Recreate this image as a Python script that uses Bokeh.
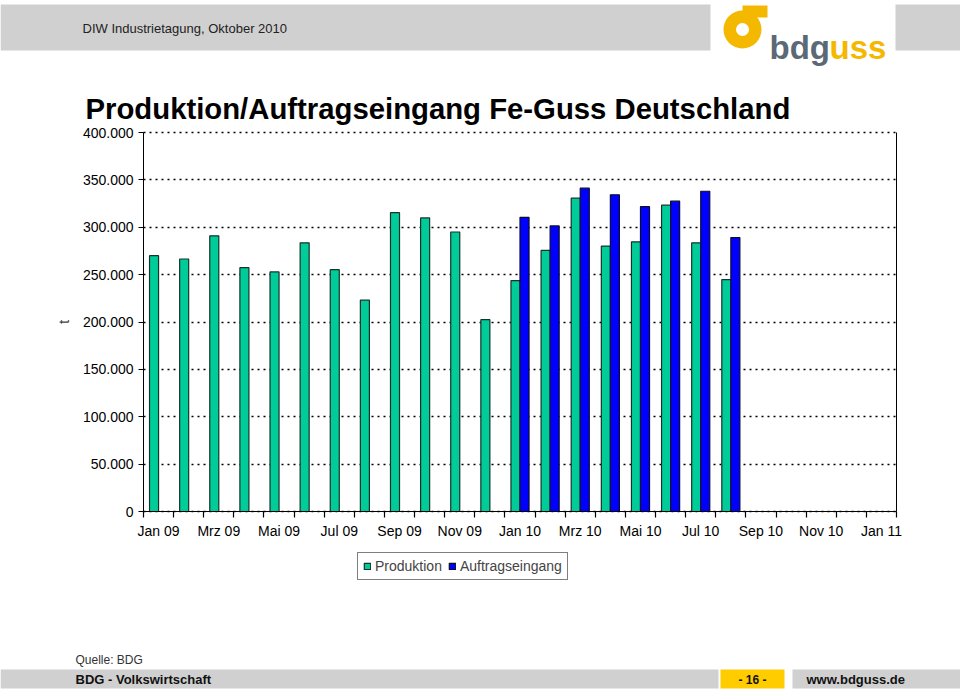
import numpy as np
from bokeh.plotting import figure
from bokeh.models import (Range1d, LinearAxis, FixedTicker, Legend, LegendItem,
                          ColumnDataSource, Grid)
from bokeh.core.properties import value
from bokeh.embed import file_html
from bokeh.resources import INLINE

# ---------------- data ----------------
months = ["Jan 09", "Feb 09", "Mrz 09", "Apr 09", "Mai 09", "Jun 09", "Jul 09", "Aug 09",
          "Sep 09", "Okt 09", "Nov 09", "Dez 09", "Jan 10", "Feb 10", "Mrz 10", "Apr 10",
          "Mai 10", "Jun 10", "Jul 10", "Aug 10", "Sep 10", "Okt 10", "Nov 10", "Dez 10", "Jan 11"]
produktion = [270000, 266500, 291000, 257300, 252800, 283600, 255200, 223000, 315400, 309800,
              295000, 202500, 243700, 275500, 330700, 280100, 284600, 323300, 283600, 244800]
auftrag_monate = ["Jan 10", "Feb 10", "Mrz 10", "Apr 10", "Mai 10", "Jun 10", "Jul 10", "Aug 10"]
auftragseingang = [310500, 301400, 341200, 334300, 321700, 327500, 338000, 289100]
y_ticks = [0, 50000, 100000, 150000, 200000, 250000, 300000, 350000, 400000]
x_label_months = months[::2]
Y_MAX = 400000

# ---------------- layout constants (pixels) ----------------
W, H = 960, 690
PL, PR, PT, PB = 143, 896, 132, 511      # plot area of the chart
FONT = "Liberation Sans"
GREEN = "#00CC99"
BLUE = "#0000FF"
GRAY = "#d0d0d0"
YELLOW = "#F5B800"

n = len(months)
xs = (PR - PL) / n
ys = (PB - PT) / Y_MAX
x_range = Range1d(-PL / xs, n + (W - PR) / xs)
y_range = Range1d(-(H - PB) / ys, Y_MAX + PT / ys)

p = figure(width=W, height=H, x_range=x_range, y_range=y_range,
           min_border=0, toolbar_location=None, output_backend="svg",
           x_axis_type=None, y_axis_type=None)
p.outline_line_color = None
p.extra_x_ranges = {"px": Range1d(0, W)}
p.extra_y_ranges = {"px": Range1d(H, 0)}
PX = dict(x_range_name="px", y_range_name="px")

# ---------------- header ----------------
p.quad(left=[0, 895], right=[710, 960], top=[4, 4], bottom=[50, 50],
       fill_color=GRAY, line_color=None, **PX)
p.text(x=[82], y=[28], text=["DIW Industrietagung, Oktober 2010"],
       text_font=value(FONT), text_font_size="13px", text_baseline="middle",
       text_color="#222222", **PX)
p.annulus(x=[742], y=[29], inner_radius=6.5, outer_radius=19,
          fill_color=YELLOW, line_color=None, **PX)
p.quad(left=[742], right=[767], top=[5], bottom=[17], fill_color=YELLOW, line_color=None, **PX)
p.text(x=[769], y=[47], text=["bdg"], text_font=value(FONT), text_font_style="bold",
       text_font_size="33px", text_baseline="alphabetic", text_color="#5b6977", **PX)
p.text(x=[829], y=[47], text=["uss"], text_font=value(FONT), text_font_style="bold",
       text_font_size="33px", text_baseline="alphabetic", text_color=YELLOW, **PX)
p.text(x=[85], y=[108], text=["Produktion/Auftragseingang Fe-Guss Deutschland"],
       text_font=value(FONT), text_font_style="bold", text_font_size="29.3px",
       text_baseline="alphabetic", text_color="#000000", **PX)

# ---------------- footer ----------------
p.text(x=[75], y=[659], text=["Quelle: BDG"], text_font=value(FONT),
       text_font_size="12px", text_baseline="middle", text_color="#333333", **PX)
p.quad(left=[0, 792], right=[718, 960], top=[669, 669], bottom=[688, 688],
       fill_color=GRAY, line_color=None, **PX)
p.quad(left=[720], right=[784], top=[669], bottom=[688], fill_color="#FFCC00",
       line_color=None, **PX)
p.text(x=[75], y=[679], text=["BDG - Volkswirtschaft"], text_font=value(FONT),
       text_font_style="bold", text_font_size="13px", text_baseline="middle",
       text_color="#111111", **PX)
p.text(x=[752], y=[679], text=["- 16 -"], text_font=value(FONT), text_font_style="bold",
       text_font_size="12px", text_baseline="middle", text_align="center",
       text_color="#111111", **PX)
p.text(x=[806], y=[679], text=["www.bdguss.de"], text_font=value(FONT),
       text_font_style="bold", text_font_size="13px", text_baseline="middle",
       text_color="#111111", **PX)

# ---------------- grid ----------------
grid = Grid(dimension=1, ticker=FixedTicker(ticks=y_ticks), grid_line_color="#000000",
            grid_line_dash="2 4", grid_line_width=1.5)
try:
    grid.cross_bounds = (0, n)
    grid.bounds = (0, Y_MAX)
    p.add_layout(grid, "center")
except Exception:
    p.segment(x0=0, x1=n, y0=y_ticks, y1=y_ticks, line_color="#000000",
              line_dash="2 4", line_width=1.5)

# ---------------- bars ----------------
idx_p = np.arange(len(produktion))
src_p = ColumnDataSource(dict(x=idx_p + 0.5 - 0.15, top=produktion))
idx_a = np.array([months.index(m) for m in auftrag_monate])
src_a = ColumnDataSource(dict(x=idx_a + 0.5 + 0.15, top=auftragseingang))

r_p = p.vbar(x="x", top="top", bottom=0, width=0.3, source=src_p,
             fill_color=GREEN, line_color="#1a332a", line_width=1.2)
r_a = p.vbar(x="x", top="top", bottom=0, width=0.3, source=src_a,
             fill_color=BLUE, line_color="#0d0d2a", line_width=1.2)

# ---------------- axes ----------------
yax = LinearAxis(ticker=FixedTicker(ticks=y_ticks, minor_ticks=[]), axis_label="t",
                 fixed_location=0, bounds=(0, Y_MAX))
yax.major_label_overrides = {v: f"{v:,}".replace(",", ".") for v in y_ticks}
yax.major_label_text_font = FONT
yax.major_label_text_font_size = "14px"
yax.major_label_text_color = "#000000"
yax.major_tick_out = 5
yax.major_tick_in = 0
yax.major_label_standoff = 5
yax.axis_label_text_font = FONT
yax.axis_label_text_font_size = "15px"
yax.axis_label_text_font_style = "normal"
yax.axis_label_standoff = 8
yax.axis_line_color = "#000000"
yax.major_tick_line_color = "#000000"
yax.major_tick_line_width = 1.2
p.add_layout(yax, "left")

# tick marks at the month boundaries
xtick = LinearAxis(ticker=FixedTicker(ticks=list(range(n + 1)), minor_ticks=[]),
                   fixed_location=0, bounds=(0, n))
xtick.major_label_overrides = {i: "" for i in range(n + 1)}
xtick.major_label_text_font_size = "1px"
xtick.major_tick_out = 6
xtick.major_tick_in = 0
xtick.major_tick_line_color = "#000000"
xtick.major_tick_line_width = 1.2
xtick.axis_line_color = "#000000"
p.add_layout(xtick, "below")

# month labels every second month
xax = LinearAxis(ticker=FixedTicker(ticks=[months.index(m) + 0.5 for m in x_label_months],
                                    minor_ticks=[]),
                 fixed_location=0, bounds=(0, n))
xax.major_label_overrides = {months.index(m) + 0.5: m for m in x_label_months}
xax.major_tick_line_color = None
xax.major_tick_out = 5
xax.major_tick_in = 0
xax.major_label_standoff = 6
xax.major_label_text_font = FONT
xax.major_label_text_font_size = "14px"
xax.major_label_text_color = "#000000"
xax.axis_line_color = None
p.add_layout(xax, "below")

rax = LinearAxis(ticker=FixedTicker(ticks=[], minor_ticks=[]), fixed_location=n,
                 bounds=(0, Y_MAX))
rax.major_label_text_font_size = "0px"
rax.major_tick_line_color = None
rax.axis_line_color = "#000000"
p.add_layout(rax, "right")

# ---------------- legend ----------------
legend = Legend(items=[LegendItem(label="Produktion", renderers=[r_p]),
                       LegendItem(label="Auftragseingang", renderers=[r_a])],
                location=(357, H - 580), orientation="horizontal",
                glyph_width=8, glyph_height=8, label_standoff=4, spacing=6,
                padding=5, label_height=14, margin=0,
                label_text_font=FONT, label_text_font_size="14px",
                border_line_color="#000000", border_line_width=1,
                background_fill_color="#ffffff", background_fill_alpha=1)
p.add_layout(legend, "center")

open("out.html", "w").write(file_html(p, INLINE))
